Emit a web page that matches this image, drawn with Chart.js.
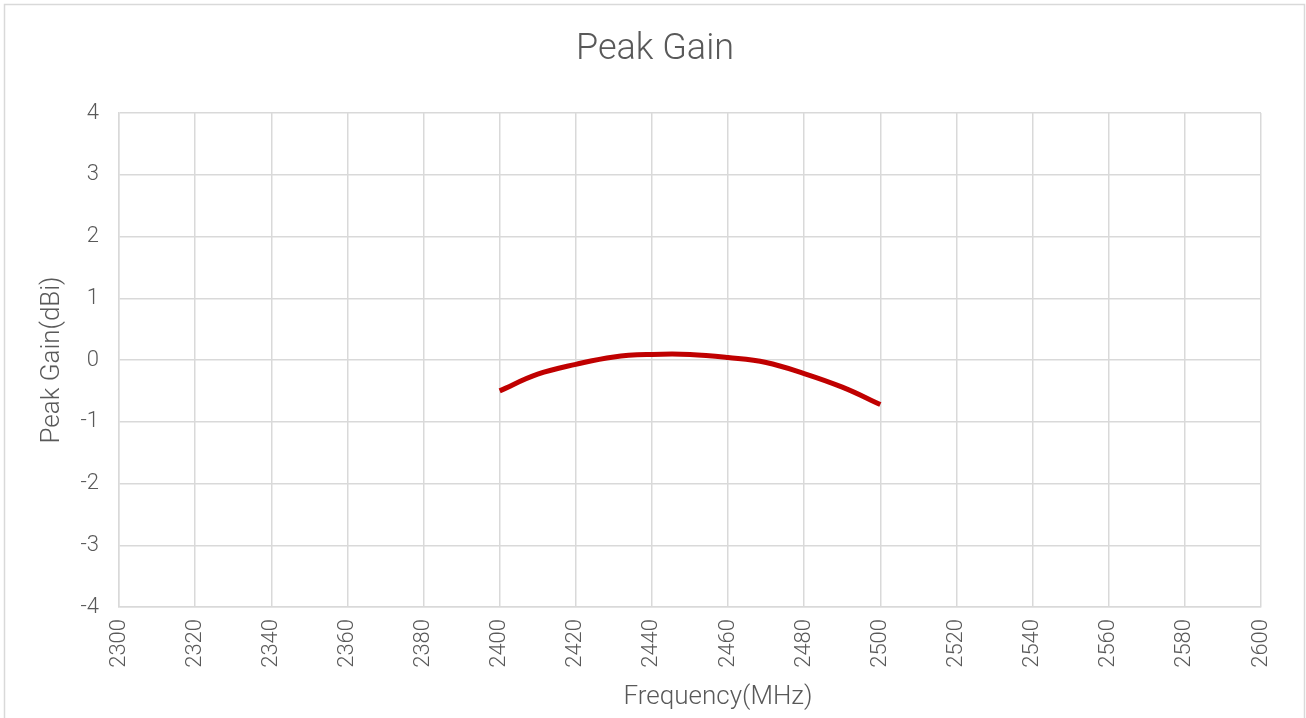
<!DOCTYPE html>
<html lang="en">
    <head>
        <meta charset="UTF-8">
        <title>Peak Gain</title>
        <script src="https://cdn.jsdelivr.net/npm/chart.js@4/dist/chart.umd.min.js"></script>
        <style>
            body { margin: 0; background: #fff; }
            #wrap { position: relative; width: 1306px; height: 718px; }
        </style>
    </head>
    <body>
        <div id="wrap"><canvas id="gainChart" width="1306" height="718"></canvas></div>
        <script>
            // values
            const freqs = [2400, 2410, 2420, 2430, 2440, 2450, 2460, 2470, 2480, 2490, 2500];
            const gain = [-0.50, -0.23, -0.07, 0.05, 0.09, 0.09, 0.04, -0.04, -0.22, -0.44, -0.72];
            const xTicks = [2300, 2320, 2340, 2360, 2380, 2400, 2420, 2440, 2460, 2480, 2500, 2520, 2540, 2560, 2580, 2600];
            const yTicks = [-4, -3, -2, -1, 0, 1, 2, 3, 4];

            const fontFamily = "Roboto, 'Noto Sans', sans-serif";
            const textColor = "#595959";
            const gridColor = "#d9d9d9";

            const frame = {
                id: "frame",
                beforeDraw(chart) {
                    const c = chart.ctx;
                    c.save();
                    c.fillStyle = "#fff";
                    c.fillRect(0, 0, chart.width, chart.height);
                    c.strokeStyle = gridColor;
                    c.lineWidth = 1.5;
                    c.strokeRect(4.5, 4.5, 1300, 730);
                    c.restore();
                }
            };

            // chart title and x axis title, placed like the original
            const texts = {
                id: "texts",
                afterDraw(chart) {
                    const c = chart.ctx;
                    c.save();
                    c.fillStyle = textColor;
                    c.textAlign = "center";
                    c.textBaseline = "middle";
                    c.font = "300 36px " + fontFamily;
                    c.fillText("Peak Gain", 655, 50);
                    c.font = "300 26px " + fontFamily;
                    c.fillText("Frequency(MHz)", 718, 697);
                    c.restore();
                }
            };

            const ctx = document.getElementById("gainChart").getContext("2d");
            new Chart(ctx, {
                type: "line",
                data: {
                    datasets: [{
                        label: "Peak Gain",
                        data: freqs.map((f, i) => ({ x: f, y: gain[i] })),
                        borderColor: "#c00000",
                        borderWidth: 5,
                        pointRadius: 0,
                        tension: 0.4,
                        fill: false
                    }]
                },
                options: {
                    responsive: false,
                    animation: false,
                    layout: { padding: { left: 0, right: 45, top: 113, bottom: 0 } },
                    plugins: {
                        legend: { display: false },
                        tooltip: { enabled: false },
                        title: { display: false }
                    },
                    scales: {
                        x: {
                            type: "linear",
                            min: 2300,
                            max: 2600,
                            afterBuildTicks: (s) => { s.ticks = xTicks.map(v => ({ value: v })); },
                            afterFit: (s) => { s.height = 111; },
                            grid: { color: gridColor, lineWidth: 1.5, drawTicks: false },
                            border: { color: gridColor, width: 1.5 },
                            ticks: {
                                color: textColor,
                                font: { family: fontFamily, size: 22, weight: 300 },
                                maxRotation: 90,
                                minRotation: 90,
                                padding: 12,
                                callback: (v) => String(v)
                            },
                            title: { display: false }
                        },
                        y: {
                            min: -4,
                            max: 4,
                            afterBuildTicks: (s) => { s.ticks = yTicks.map(v => ({ value: v })); },
                            afterFit: (s) => { s.width = 119; },
                            grid: { color: gridColor, lineWidth: 1.5, drawTicks: false },
                            border: { color: gridColor, width: 1.5 },
                            ticks: {
                                color: textColor,
                                font: { family: fontFamily, size: 22, weight: 300 },
                                padding: 20,
                                callback: (v) => String(v)
                            },
                            title: {
                                display: true,
                                text: "Peak Gain(dBi)",
                                color: textColor,
                                font: { family: fontFamily, size: 26, weight: 300 },
                                padding: { top: 37, bottom: 0 }
                            }
                        }
                    }
                },
                plugins: [frame, texts]
            });
        </script>
    </body>
</html>
